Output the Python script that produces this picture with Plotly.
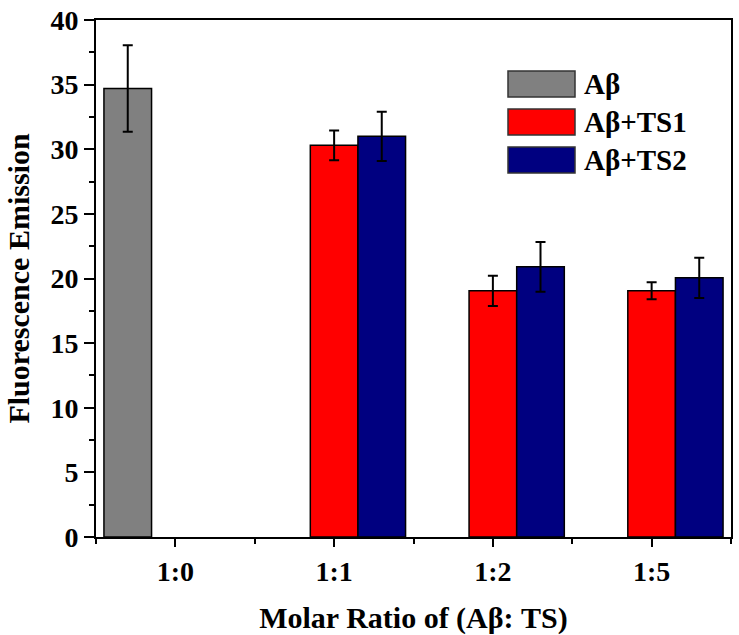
import plotly.graph_objects as go

# ---- data ----
ratios = ["1:0", "1:1", "1:2", "1:5"]
series_names = ["Aβ", "Aβ+TS1", "Aβ+TS2"]
abeta = [34.7, None, None, None]
abeta_err = [3.35, 0, 0, 0]
ts1 = [None, 30.3, 19.05, 19.05]
ts1_err = [0, 1.15, 1.17, 0.66]
ts2 = [None, 31.0, 20.9, 20.05]
ts2_err = [0, 1.9, 1.93, 1.55]
y_ticks = [0, 5, 10, 15, 20, 25, 30, 35, 40]
colors = ["#808080", "#FF0000", "#000080"]

FONT = "Liberation Serif, Times New Roman, serif"
W, H = 739, 635
L, R, T, B = 96, 8, 20, 98

xpos = list(range(len(ratios)))

fig = go.Figure()
for name, vals, errs, col in zip(series_names, [abeta, ts1, ts2],
                                 [abeta_err, ts1_err, ts2_err], colors):
    fig.add_trace(go.Bar(
        x=xpos, y=vals, name=name,
        marker=dict(color=col, line=dict(color="black", width=1.5)),
        error_y=dict(type="data", array=errs, visible=True,
                     color="black", thickness=2, width=5),
        showlegend=False,
    ))

# custom legend with large swatches (pixel positions -> paper coords)
pw, ph = W - L - R, H - T - B
def px_x(p): return (p - L) / pw
def px_y(p): return (H - B - p) / ph

box_tops = [71, 109, 147]
for name, col, top in zip(series_names, colors, box_tops):
    fig.add_shape(type="rect", xref="paper", yref="paper",
                  x0=px_x(508), x1=px_x(575), y0=px_y(top + 26), y1=px_y(top),
                  fillcolor=col, line=dict(color="#333333", width=1.5))
    fig.add_annotation(xref="paper", yref="paper", x=px_x(582), y=px_y(top + 13),
                       text=f"<b>{name}</b>", showarrow=False,
                       xanchor="left", yanchor="middle",
                       font=dict(family=FONT, size=29, color="black"))

axis_common = dict(showline=True, linecolor="black", linewidth=2, mirror=True,
                   ticks="outside", tickwidth=2, tickcolor="black",
                   showgrid=False, zeroline=False, automargin=False,
                   ticklabeloverflow="allow",
                   tickfont=dict(family=FONT, size=28, color="black"))

fig.update_xaxes(**axis_common, range=[-0.5, 3.5], tickvals=xpos,
                 ticktext=[f"<b>{r}</b>" for r in ratios], ticklen=8,
                 minor=dict(tick0=-0.5, dtick=1, ticks="outside", ticklen=5,
                            tickwidth=2, tickcolor="black", showgrid=False),
                 title=dict(text="<b>Molar Ratio of (Aβ: TS)</b>",
                            font=dict(family=FONT, size=30, color="black"), standoff=30))
fig.update_yaxes(**axis_common, range=[0, 40], tickvals=y_ticks,
                 ticktext=[f"<b>{v}</b>" for v in y_ticks], ticklen=10,
                 minor=dict(dtick=2.5, ticks="outside", ticklen=5,
                            tickwidth=2, tickcolor="black", showgrid=False),
                 title=dict(text="<b>Fluorescence Emission</b>",
                            font=dict(family=FONT, size=30, color="black"), standoff=12))

fig.update_layout(
    width=W, height=H,
    margin=dict(l=L, r=R, t=T, b=B),
    barmode="group", bargap=0.1, bargroupgap=0,
    plot_bgcolor="white", paper_bgcolor="white",
    font=dict(family=FONT, color="black"),
)

# drop the browser's default body margin so the figure sits at the page corner
fig.write_html("out.html", config={"displayModeBar": False},
               post_script="document.body.style.margin='0px';")
